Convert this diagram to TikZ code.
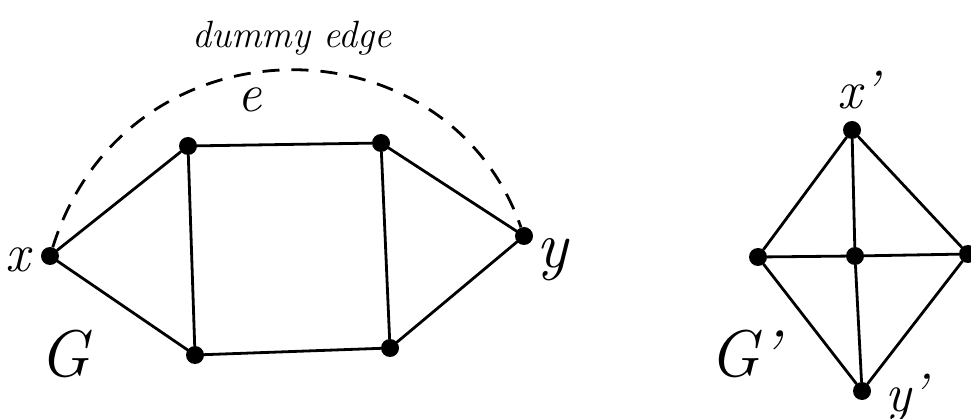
\documentclass[tikz,border=0pt]{standalone}
\begin{document}
\begin{tikzpicture}[x=1pt,y=-1pt,
  vtx/.style={circle,fill=black,inner sep=0pt,minimum size=18pt},
  edge/.style={line width=2.8pt,line cap=round},
  dummy/.style={line width=2.8pt,dash pattern=on 17pt off 12pt},
  lbl/.style={font=\fontsize{54}{54}\selectfont\itshape},
  mid/.style={font=\fontsize{38}{38}\selectfont\itshape},
  big/.style={font=\fontsize{66}{66}\selectfont\itshape}]
\useasboundingbox (0,0) rectangle (971,419);
% left graph G
\node[vtx] (x) at (50,256) {};
\node[vtx] (ul) at (188,146) {};
\node[vtx] (ur) at (381,143) {};
\node[vtx] (yy) at (524,236) {};
\node[vtx] (ll) at (195,355) {};
\node[vtx] (lr) at (390,348) {};
\draw[edge] (x) -- (ul);
\draw[edge] (x) -- (ll);
\draw[edge] (ul) -- (ur);
\draw[edge] (ul) -- (ll);
\draw[edge] (ur) -- (lr);
\draw[edge] (ur) -- (yy);
\draw[edge] (ll) -- (lr);
\draw[edge] (lr) -- (yy);
\draw[dummy] (x) .. controls (126,14) and (446,14) .. (yy);
\node[lbl] (lx) at (18,260) {x};
\node[big] (ly) at (552,260) {y};
\node[big] (lG) at (64,354) {G};
\node[mid] (ld) at (292,38) {dummy edge};
\node[lbl] (le) at (250,100) {e};
% right graph G'
\node[vtx] (xp) at (852,130) {};
\node[vtx] (L) at (758,257) {};
\node[vtx] (C) at (855,256) {};
\node[vtx] (R) at (968,254) {};
\node[vtx] (B) at (862,391) {};
\draw[edge] (xp) -- (L);
\draw[edge] (xp) -- (C);
\draw[edge] (xp) -- (R);
\draw[edge] (L) -- (C);
\draw[edge] (C) -- (R);
\draw[edge] (L) -- (B);
\draw[edge] (C) -- (B);
\draw[edge] (R) -- (B);
\node[lbl] (lxp) at (858,90) {x'};
\node[big] (lGp) at (744,354) {G'};
\node[lbl] (lyp) at (906,398) {y'};
\end{tikzpicture}
\end{document}
